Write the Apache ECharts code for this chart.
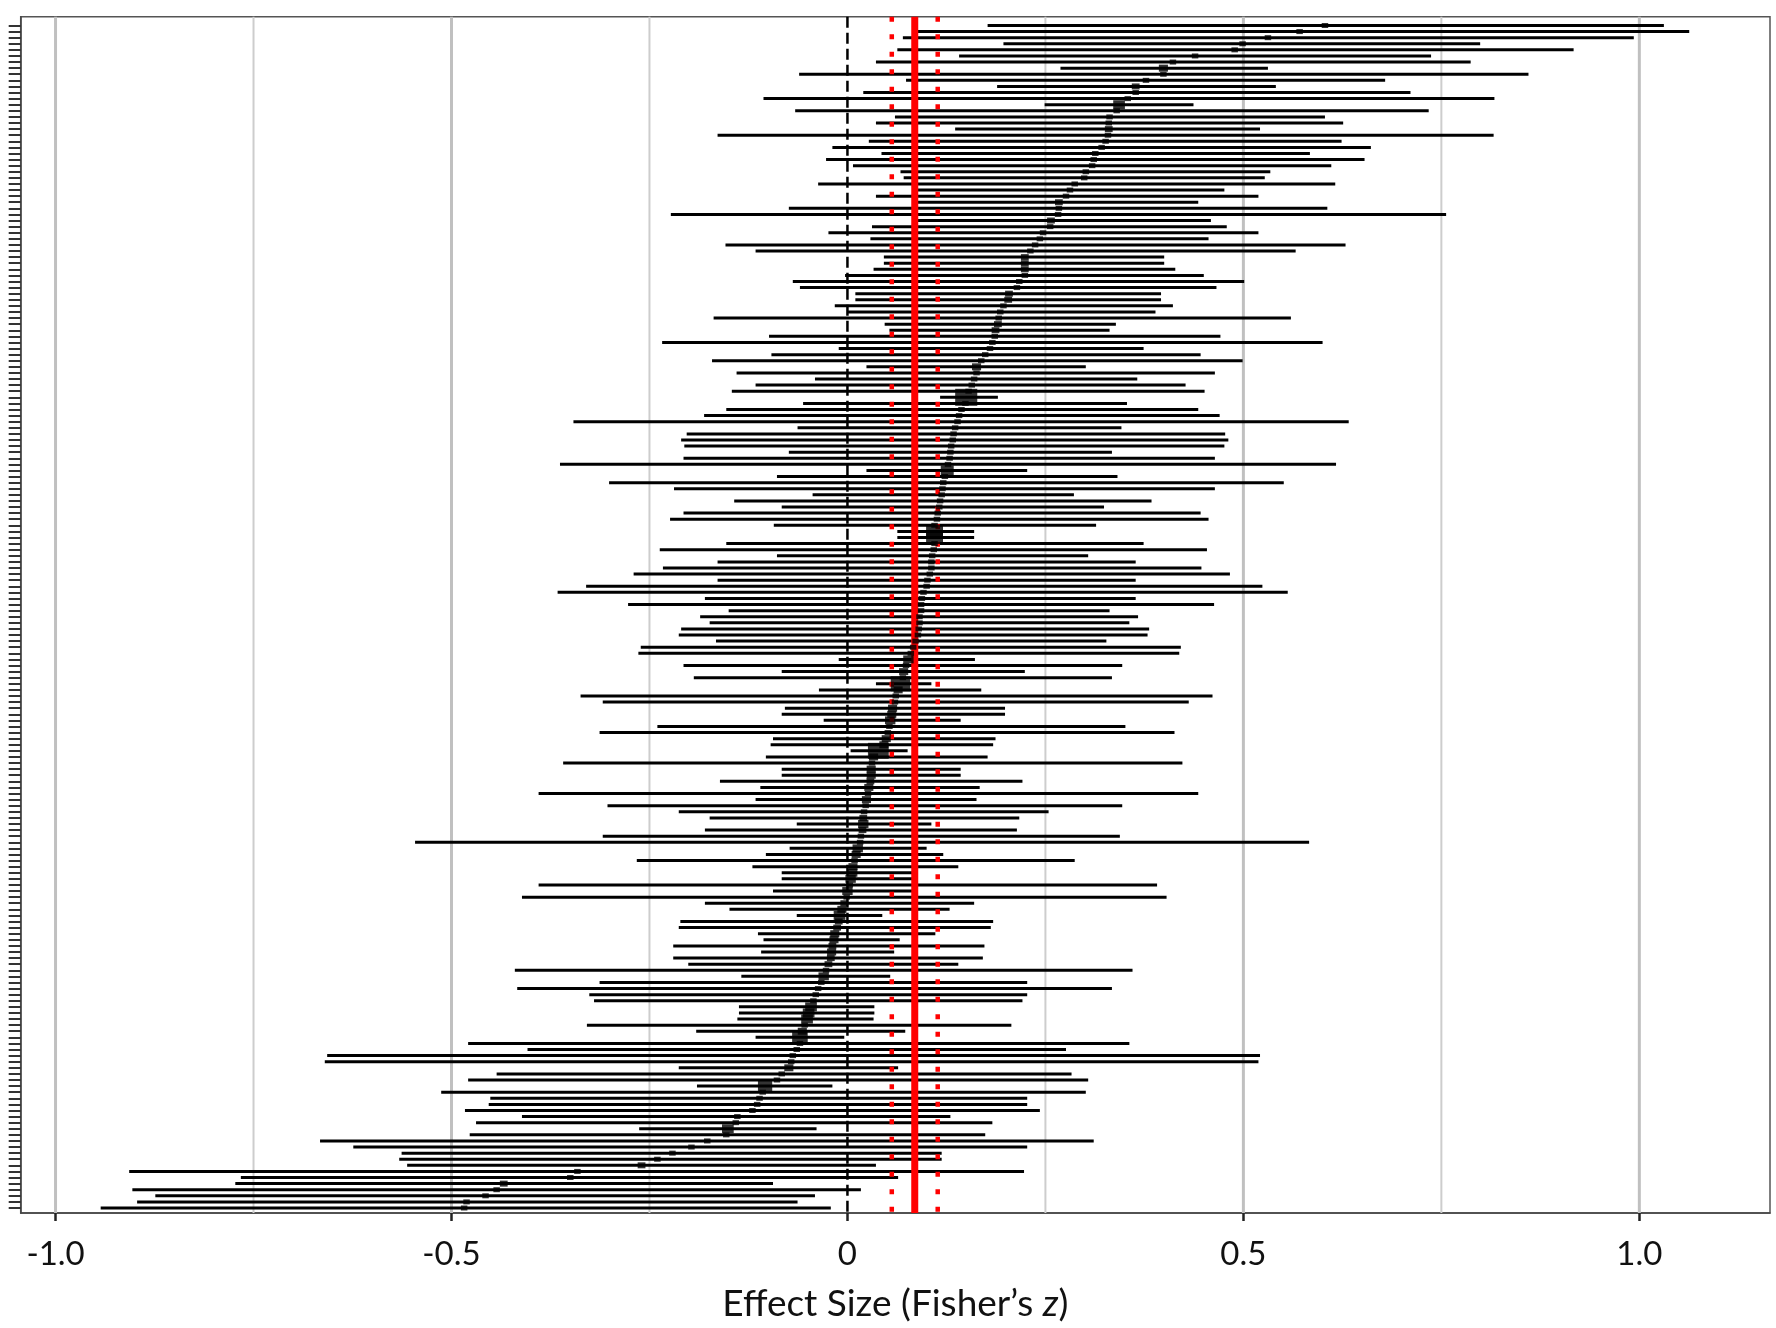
<!DOCTYPE html>
<html>
<head>
<meta charset="utf-8">
<script src="https://cdn.jsdelivr.net/npm/echarts@6/dist/echarts.min.js"></script>
<style>
html, body { margin: 0; padding: 0; background: #fff; }
#main { width: 1776px; height: 1328px; }
</style>
</head>
<body>
<div id="main"></div>
<script>
// studies listed top to bottom (Fisher's z, 95% CI, relative weight)
const lower = [
  0.177, 0.089, 0.070, 0.197, 0.063, 0.141, 0.036, 0.269, -0.061, 0.074,
  0.189, 0.020, -0.106, 0.249, -0.066, 0.060, 0.036, 0.136, -0.164, 0.027,
  -0.019, 0.043, -0.027, 0.007, 0.067, 0.071, -0.037, 0.086, 0.036, 0.089,
  -0.074, -0.223, 0.086, 0.031, -0.024, 0.029, -0.154, -0.116, 0.046, 0.046,
  0.033, -0.003, -0.069, -0.060, 0.010, 0.010, -0.016, 0.000, -0.169, 0.047,
  0.053, -0.099, -0.234, -0.011, -0.096, -0.171, 0.024, -0.140, -0.041, -0.116,
  -0.146, 0.117, -0.056, -0.153, -0.181, -0.346, -0.063, -0.203, -0.210, -0.206,
  -0.074, -0.207, -0.363, 0.024, -0.089, -0.301, -0.219, -0.044, -0.143, -0.083,
  -0.207, -0.224, -0.093, 0.063, 0.063, -0.153, -0.237, -0.089, -0.164, -0.233,
  -0.270, -0.164, -0.330, -0.366, -0.180, -0.277, -0.150, -0.186, -0.174, -0.210,
  -0.213, -0.166, -0.261, -0.264, -0.011, -0.207, -0.083, -0.194, 0.036, -0.036,
  -0.337, -0.309, -0.079, -0.083, -0.030, -0.240, -0.313, -0.094, -0.097, 0.004,
  -0.103, -0.359, -0.083, -0.083, -0.161, -0.110, -0.390, -0.116, -0.303, -0.213,
  -0.174, -0.064, -0.180, -0.309, -0.546, -0.073, -0.103, -0.266, -0.120, -0.083,
  -0.083, -0.390, -0.094, -0.411, -0.180, -0.149, -0.064, -0.211, -0.213, -0.113,
  -0.106, -0.220, -0.109, -0.220, -0.201, -0.420, -0.134, -0.313, -0.417, -0.326,
  -0.320, -0.137, -0.137, -0.139, -0.329, -0.191, -0.116, -0.479, -0.404, -0.657,
  -0.660, -0.213, -0.443, -0.479, -0.190, -0.513, -0.451, -0.453, -0.483, -0.411,
  -0.469, -0.263, -0.477, -0.666, -0.624, -0.563, -0.566, -0.556, -0.907, -0.766,
  -0.773, -0.903, -0.874, -0.897, -0.943
];
const estimate = [
  0.603, 0.571, 0.531, 0.499, 0.489, 0.439, 0.411, 0.399, 0.399, 0.377,
  0.364, 0.364, 0.354, 0.343, 0.340, 0.331, 0.330, 0.330, 0.329, 0.326,
  0.321, 0.313, 0.311, 0.309, 0.301, 0.299, 0.287, 0.281, 0.276, 0.267,
  0.267, 0.266, 0.257, 0.256, 0.247, 0.243, 0.237, 0.231, 0.224, 0.224,
  0.224, 0.224, 0.217, 0.214, 0.204, 0.203, 0.197, 0.193, 0.191, 0.190,
  0.187, 0.186, 0.183, 0.180, 0.174, 0.169, 0.163, 0.163, 0.160, 0.157,
  0.153, 0.150, 0.149, 0.144, 0.141, 0.139, 0.136, 0.134, 0.133, 0.131,
  0.130, 0.129, 0.127, 0.126, 0.123, 0.121, 0.120, 0.119, 0.117, 0.116,
  0.114, 0.113, 0.110, 0.110, 0.110, 0.110, 0.109, 0.107, 0.106, 0.106,
  0.104, 0.101, 0.100, 0.096, 0.094, 0.093, 0.093, 0.091, 0.091, 0.090,
  0.089, 0.086, 0.083, 0.080, 0.077, 0.074, 0.071, 0.070, 0.067, 0.064,
  0.061, 0.060, 0.057, 0.056, 0.054, 0.053, 0.051, 0.049, 0.046, 0.039,
  0.033, 0.031, 0.030, 0.030, 0.029, 0.027, 0.026, 0.024, 0.023, 0.021,
  0.020, 0.020, 0.019, 0.017, 0.016, 0.013, 0.011, 0.009, 0.007, 0.006,
  0.004, 0.003, 0.000, -0.001, -0.004, -0.007, -0.010, -0.011, -0.013, -0.016,
  -0.017, -0.019, -0.020, -0.021, -0.024, -0.027, -0.030, -0.033, -0.037, -0.040,
  -0.043, -0.046, -0.049, -0.051, -0.054, -0.057, -0.060, -0.060, -0.064, -0.069,
  -0.071, -0.074, -0.083, -0.089, -0.104, -0.107, -0.111, -0.114, -0.120, -0.139,
  -0.141, -0.151, -0.153, -0.177, -0.197, -0.221, -0.240, -0.260, -0.341, -0.350,
  -0.434, -0.443, -0.457, -0.481, -0.484
];
const upper = [
  1.031, 1.063, 0.993, 0.799, 0.917, 0.737, 0.787, 0.531, 0.860, 0.679,
  0.541, 0.711, 0.817, 0.437, 0.734, 0.603, 0.626, 0.521, 0.816, 0.624,
  0.661, 0.584, 0.653, 0.611, 0.534, 0.527, 0.616, 0.476, 0.519, 0.443,
  0.606, 0.756, 0.459, 0.479, 0.519, 0.456, 0.629, 0.566, 0.400, 0.400,
  0.414, 0.450, 0.501, 0.466, 0.396, 0.396, 0.411, 0.389, 0.560, 0.339,
  0.331, 0.471, 0.600, 0.374, 0.446, 0.499, 0.301, 0.464, 0.366, 0.427,
  0.451, 0.190, 0.353, 0.443, 0.470, 0.633, 0.346, 0.477, 0.481, 0.476,
  0.334, 0.464, 0.617, 0.227, 0.341, 0.551, 0.464, 0.286, 0.384, 0.324,
  0.446, 0.456, 0.314, 0.160, 0.160, 0.374, 0.454, 0.304, 0.364, 0.447,
  0.483, 0.364, 0.524, 0.556, 0.364, 0.463, 0.331, 0.367, 0.356, 0.381,
  0.379, 0.327, 0.421, 0.419, 0.161, 0.347, 0.224, 0.334, 0.106, 0.169,
  0.461, 0.431, 0.199, 0.199, 0.143, 0.351, 0.413, 0.187, 0.184, 0.076,
  0.177, 0.423, 0.143, 0.143, 0.221, 0.167, 0.443, 0.163, 0.347, 0.254,
  0.217, 0.106, 0.214, 0.344, 0.583, 0.100, 0.121, 0.287, 0.140, 0.083,
  0.083, 0.391, 0.083, 0.403, 0.160, 0.129, 0.044, 0.184, 0.181, 0.111,
  0.066, 0.173, 0.059, 0.171, 0.140, 0.360, 0.054, 0.227, 0.334, 0.227,
  0.221, 0.034, 0.034, 0.033, 0.207, 0.073, -0.004, 0.356, 0.276, 0.521,
  0.519, 0.064, 0.283, 0.304, -0.019, 0.301, 0.227, 0.227, 0.243, 0.130,
  0.183, -0.039, 0.174, 0.311, 0.227, 0.119, 0.119, 0.036, 0.223, 0.064,
  -0.094, 0.017, -0.041, -0.063, -0.021
];
const weight = [
  1, 1, 1, 1, 1, 1, 1, 1.4, 1, 1,
  1.2, 1, 1, 1.8, 1, 1, 1, 1.2, 1, 1,
  1, 1, 1, 1, 1, 1, 1, 1, 1, 1.2,
  1, 1, 1.2, 1, 1, 1, 1, 1, 1.2, 1.2,
  1.2, 1, 1, 1, 1.2, 1.2, 1, 1, 1, 1.2,
  1.2, 1, 1, 1, 1, 1, 1.4, 1, 1, 1,
  1, 3.4, 1, 1, 1, 1, 1, 1, 1, 1,
  1, 1, 1, 2, 1, 1, 1, 1, 1, 1,
  1, 1, 1, 2.6, 2.6, 1, 1, 1, 1, 1,
  1, 1, 1, 1, 1, 1, 1, 1, 1, 1,
  1, 1, 1, 1, 1.6, 1, 1.4, 1, 3, 1.4,
  1, 1, 1.4, 1.4, 1.6, 1, 1, 1.4, 1.4, 3.2,
  1.4, 1, 1.4, 1.4, 1.2, 1.4, 1, 1.4, 1, 1,
  1.2, 1.6, 1.2, 1, 1, 1.6, 1.4, 1, 1.4, 1.6,
  1.6, 1, 1.6, 1, 1.2, 1.4, 1.8, 1.2, 1.2, 1.4,
  1.4, 1.2, 1.4, 1.2, 1.2, 1, 1.6, 1, 1, 1,
  1, 1.8, 1.8, 1.8, 1, 1.4, 2.4, 1, 1, 1,
  1, 1.4, 1, 1, 2.2, 1, 1, 1, 1, 1,
  1, 1.8, 1, 1, 1, 1, 1, 1.2, 1, 1,
  1.2, 1, 1, 1, 1
];

// reference lines
const majorGrid = [-1, -0.5, 0.5, 1];
const minorGrid = [-0.75, -0.25, 0.25, 0.75];
const nullEffect = [0];
const pooledEffect = [0.085];
const pooledCI = [0.056, 0.114];
const xTicks = [-1, -0.5, 0, 0.5, 1];

const n = estimate.length;
const rows = estimate.map((e, i) => n - i);

const chart = echarts.init(document.getElementById('main'));

function vLines(values, color, width, dash, z) {
    return {
        type: 'custom',
        z: z,
        silent: true,
        data: values.map(v => [v, 1]),
        encode: { x: 0, y: 1 },
        renderItem: function (params, api) {
            const cs = params.coordSys;
            const x = api.coord([api.value(0), 1])[0];
            return {
                type: 'line',
                shape: { x1: x, y1: cs.y, x2: x, y2: cs.y + cs.height },
                style: { stroke: color, lineWidth: width, lineDash: dash }
            };
        }
    };
}

chart.setOption({
    animation: false,
    grid: {
        left: 20.7, right: 6, top: 16.7, bottom: 113,
        show: true, borderColor: '#555', borderWidth: 1.5
    },
    xAxis: {
        type: 'value',
        min: -1.044,
        max: 1.165,
        axisLine: { show: true, onZero: false, lineStyle: { color: '#444', width: 1.5 } },
        axisTick: { show: true, customValues: xTicks, length: 8, lineStyle: { color: '#222', width: 2.5 } },
        axisLabel: {
            customValues: xTicks,
            formatter: v => (v === 0 ? '0' : v.toFixed(1)),
            fontFamily: 'Lato', fontSize: 33, color: '#111', margin: 25
        },
        splitLine: { show: false },
        name: 'Effect Size (Fisher’s {i|z})',
        nameLocation: 'middle',
        nameGap: 73,
        nameTextStyle: {
            fontFamily: 'Lato', fontSize: 37, color: '#111',
            rich: { i: { fontFamily: 'Lato', fontSize: 37, fontStyle: 'italic', color: '#111' } }
        }
    },
    yAxis: {
        type: 'value',
        min: 0.18,
        max: 196.44,
        axisLine: { show: true, onZero: false, lineStyle: { color: '#444', width: 1.5 } },
        axisTick: { show: true, customValues: rows, length: 12, lineStyle: { color: '#333', width: 2 } },
        axisLabel: { show: false },
        splitLine: { show: false }
    },
    series: [
        vLines(majorGrid, '#c0c0c0', 3, null, 1),
        vLines(minorGrid, '#cdcdcd', 2, null, 1),
        {
            type: 'custom',
            z: 2,
            silent: true,
            data: lower.map((lo, i) => [lo, upper[i], rows[i]]),
            encode: { x: [0, 1], y: 2 },
            renderItem: function (params, api) {
                const y = api.value(2);
                const a = api.coord([api.value(0), y]);
                const b = api.coord([api.value(1), y]);
                return {
                    type: 'line',
                    shape: { x1: a[0], y1: a[1], x2: b[0], y2: b[1] },
                    style: { stroke: '#000', lineWidth: 3 }
                };
            }
        },
        vLines(nullEffect, '#000', 2.5, [11, 5], 3),
        vLines(pooledCI, '#ff0000', 4.5, [5, 12.5], 4),
        vLines(pooledEffect, '#ff0000', 7, null, 4),
        {
            type: 'scatter',
            z: 5,
            silent: true,
            symbol: 'rect',
            symbolSize: v => [v[2] * 6.5, v[2] * 5],
            itemStyle: { color: '#000' },
            data: estimate.map((e, i) => [e, rows[i], weight[i]])
        }
    ]
});
</script>
</body>
</html>
